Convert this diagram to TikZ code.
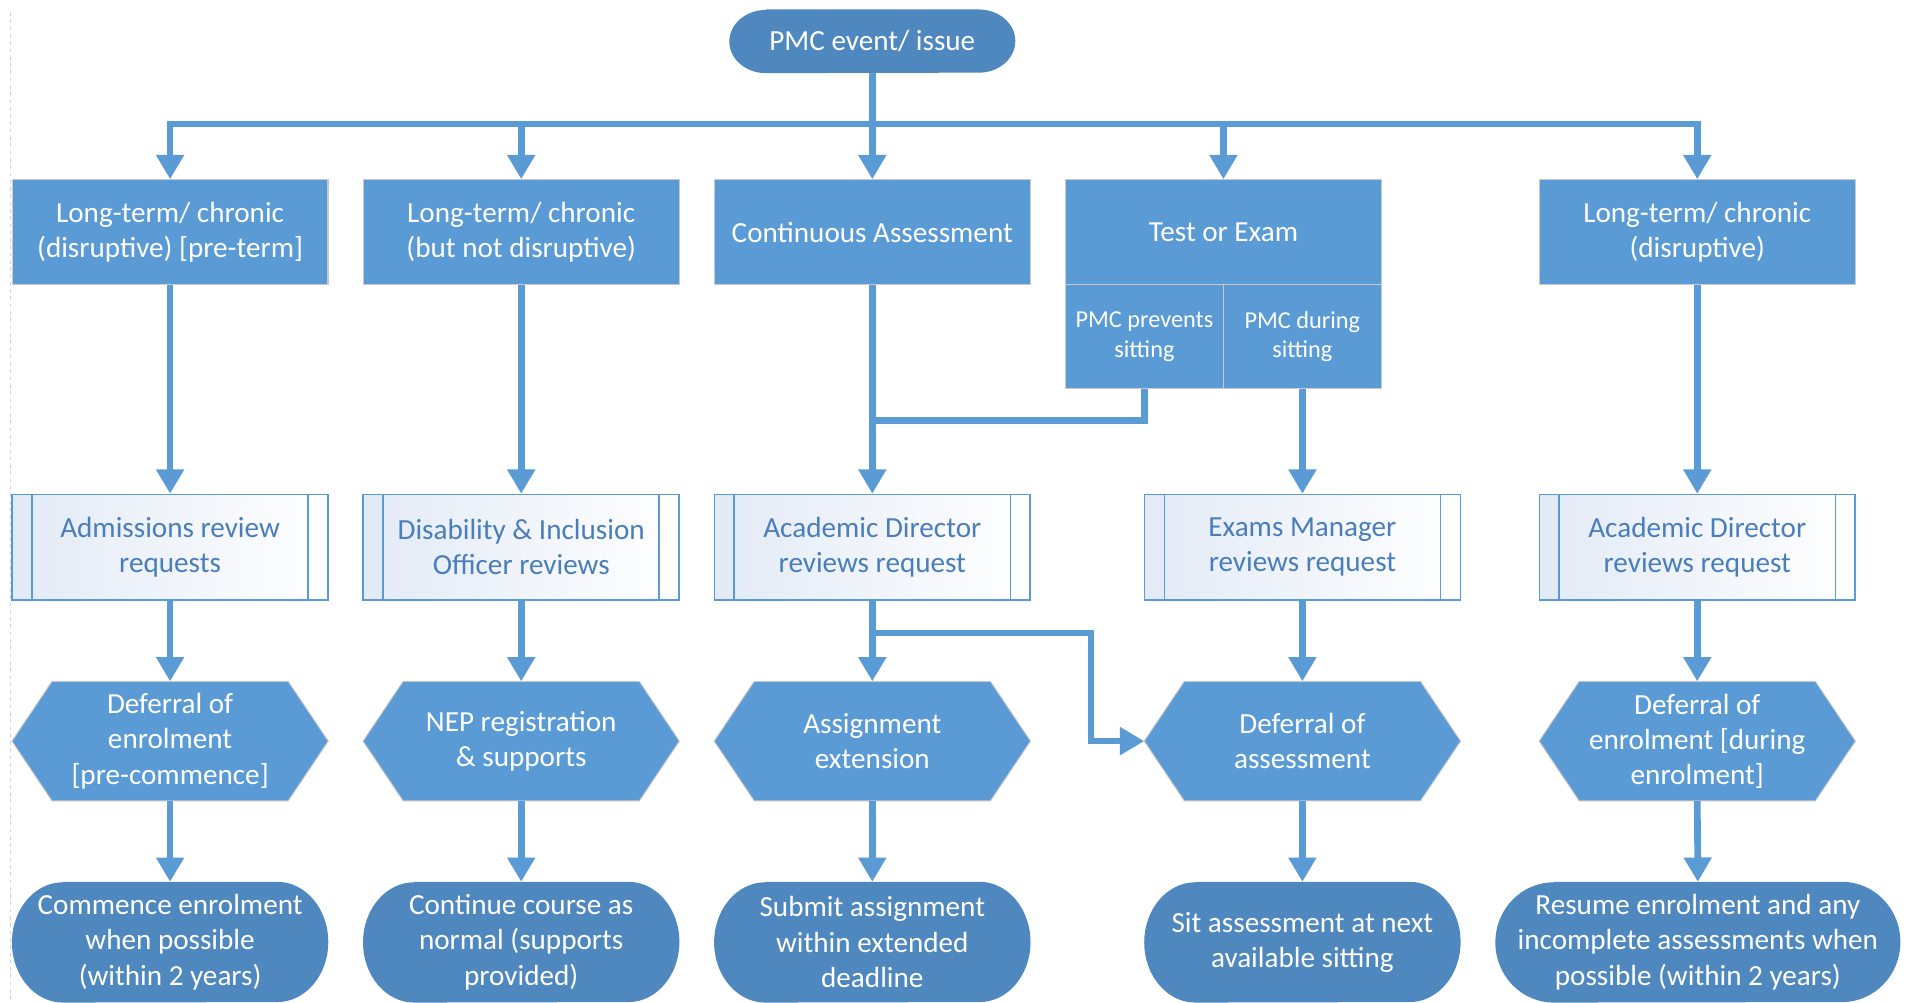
\documentclass[tikz,border=0pt]{standalone}
\usepackage{fontspec}
\setmainfont{Carlito}
\usetikzlibrary{arrows.meta,backgrounds,calc}
\definecolor{procblue}{HTML}{5B9BD5}
\definecolor{termblue}{HTML}{4F87BF}
\definecolor{linkblue}{HTML}{5B9BD5}
\definecolor{boxedge}{HTML}{C9C9C9}
\definecolor{predtext}{HTML}{4A7EBA}
\definecolor{predfill}{HTML}{E2EAF6}
\begin{document}
\begin{tikzpicture}[x=1pt,y=1pt,
  txt/.style={font=\fontsize{24}{29}\selectfont, align=center, inner sep=0pt},
  procbox/.style={txt, rectangle, fill=procblue, draw=boxedge, line width=1pt, text=white, minimum width=260pt, minimum height=86pt},
  subbox/.style={procbox, font=\fontsize{20}{24.5}\selectfont, minimum width=130pt},
  predbox/.style={txt, rectangle, draw=procblue, line width=1.3pt, left color=predfill, right color=white, text=predtext, minimum width=260pt, minimum height=87pt},
  hexbox/.style={txt, text=white, minimum width=260pt, minimum height=98pt},
  termbox/.style={txt, text=white, minimum width=260pt, minimum height=99pt},
  hexshape/.style={fill=procblue, draw=boxedge, line width=0.8pt},
  termshape/.style={fill=termblue},
  conn/.style={draw=linkblue, line width=5.5pt},
  arr/.style={conn, -{Triangle[width=22pt,length=20pt]}},
]
\useasboundingbox (0,0) rectangle (1568,-825.5);
\draw[gray!35, dashed, line width=0.8pt] (9,-10) -- (9,-825.5);

% top
\node[termbox, minimum width=235pt, minimum height=52pt] (top) at (718,-34) {PMC event/ issue};

% row A
\node[procbox] (a1) at (140,-191) {Long-term/ chronic\\(disruptive) [pre-term]};
\node[procbox] (a2) at (429,-191) {Long-term/ chronic\\(but not disruptive)};
\node[procbox] (a3) at (718,-191) {Continuous Assessment};
\node[procbox] (a4) at (1007,-191) {Test or Exam};
\node[subbox] (a4p) at (942,-277) {PMC prevents\\sitting};
\node[subbox] (a4d) at (1072,-277) {PMC during\\sitting};
\node[procbox] (a5) at (1397,-191) {Long-term/ chronic\\(disruptive)};

% row B
\node[predbox] (b1) at (140,-450.5) {Admissions review\\requests};
\node[predbox] (b2) at (429,-450.5) {Disability \& Inclusion\\Officer reviews};
\node[predbox] (b3) at (718,-450.5) {Academic Director\\reviews request};
\node[predbox] (b4) at (1072,-450.5) {Exams Manager\\reviews request};
\node[predbox] (b5) at (1397,-450.5) {Academic Director\\reviews request};
\foreach \n in {b1,b2,b3,b4,b5}{
  \draw[procblue, line width=1.3pt] ([xshift=17pt]\n.north west) -- ([xshift=17pt]\n.south west);
  \draw[procblue, line width=1.3pt] ([xshift=-17pt]\n.north east) -- ([xshift=-17pt]\n.south east);
}

% row C
\node[hexbox] (c1) at (140,-610) {Deferral of\\enrolment\\{[}pre-commence{]}};
\node[hexbox] (c2) at (429,-610) {NEP registration\\\& supports};
\node[hexbox] (c3) at (718,-610) {Assignment\\extension};
\node[hexbox] (c4) at (1072,-610) {Deferral of\\assessment};
\node[hexbox] (c5) at (1397,-610) {Deferral of\\enrolment {[}during\\enrolment{]}};

% row D
\node[termbox] (d1) at (140,-775.5) {Commence enrolment\\when possible\\(within 2 years)};
\node[termbox] (d2) at (429,-775.5) {Continue course as\\normal (supports\\provided)};
\node[termbox] (d3) at (718,-775.5) {Submit assignment\\within extended\\deadline};
\node[termbox] (d4) at (1072,-775.5) {Sit assessment at next\\available sitting};
\node[termbox, minimum width=333pt] (d5) at (1397.5,-775.5) {Resume enrolment and any\\incomplete assessments when\\possible (within 2 years)};

\begin{scope}[on background layer]
\foreach \n in {c1,c2,c3,c4,c5}
  \path[hexshape] (\n.west) -- ([xshift=33pt]\n.north west) -- ([xshift=-33pt]\n.north east)
     -- (\n.east) -- ([xshift=-33pt]\n.south east) -- ([xshift=33pt]\n.south west) -- cycle;
\foreach \n/\a/\r in {top/30/26, d1/42/49.5, d2/42/49.5, d3/42/49.5, d4/42/49.5, d5/48/49.5}
  \path[termshape] ([xshift=\a pt]\n.north west) -- ([xshift=-\a pt]\n.north east)
     arc[start angle=90, end angle=-90, x radius=\a pt, y radius=\r pt]
     -- ([xshift=\a pt]\n.south west)
     arc[start angle=270, end angle=90, x radius=\a pt, y radius=\r pt] -- cycle;
\end{scope}

% connectors
\coordinate (bus) at (718,-102);
\draw[arr] (top.south) -- (a3.north);
\draw[arr] (bus) -| (a1.north);
\draw[arr] (bus) -| (a5.north);
\draw[arr] (bus -| a2.north) -- (a2.north);
\draw[arr] (bus -| a4.north) -- (a4.north);

\draw[arr] (a1.south) -- (b1.north);
\draw[arr] (a2.south) -- (b2.north);
\draw[arr] (a3.south) -- (b3.north);
\coordinate (j1) at (718,-346);
\draw[conn] (a4p.south) |- (j1);
\draw[arr] (a4d.south) -- (b4.north);
\draw[arr] (a5.south) -- (b5.north);

\draw[arr] (b1.south) -- (c1.north);
\draw[arr] (b2.south) -- (c2.north);
\draw[arr] (b3.south) -- (c3.north);
\coordinate (j2) at (718,-521);
\coordinate (bend) at (898,-521);
\draw[arr] (j2) -- (bend) |- (c4.west);
\draw[arr] (b4.south) -- (c4.north);
\draw[arr] (b5.south) -- (c5.north);

\draw[arr] (c1.south) -- (d1.north);
\draw[arr] (c2.south) -- (d2.north);
\draw[arr] (c3.south) -- (d3.north);
\draw[arr] (c4.south) -- (d4.north);
\draw[arr] (c5.south) -- (d5.north);
\end{tikzpicture}
\end{document}
